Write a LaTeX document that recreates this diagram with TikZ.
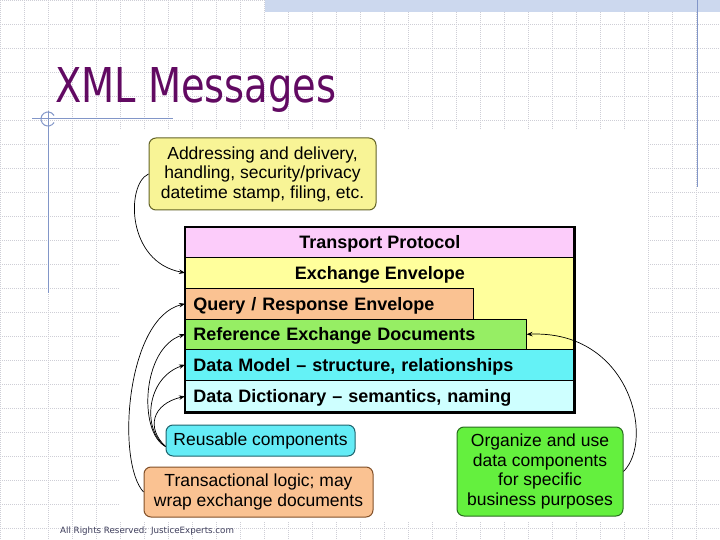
\documentclass[tikz,border=0pt]{standalone}
\usepackage{graphicx}
\usepackage{fontspec}
\setmainfont{Liberation Sans}
\newfontfamily\titlefont{DejaVu Sans}
\usetikzlibrary{arrows.meta}

\definecolor{gridgray}{RGB}{206,206,214}
\definecolor{decorblue}{RGB}{130,150,200}
\definecolor{bannerblue}{RGB}{204,216,238}
\definecolor{titlepurple}{RGB}{98,10,98}
\definecolor{footgray}{RGB}{60,60,90}
\definecolor{pinkc}{RGB}{252,204,250}
\definecolor{envyellow}{RGB}{255,255,156}
\definecolor{peach}{RGB}{250,194,146}
\definecolor{refgreen}{RGB}{150,238,100}
\definecolor{modelcyan}{RGB}{100,242,246}
\definecolor{dictcyan}{RGB}{206,255,255}
\definecolor{addryellow}{RGB}{248,244,150}
\definecolor{addrborder}{RGB}{100,100,40}
\definecolor{reusecyan}{RGB}{100,236,246}
\definecolor{reuseborder}{RGB}{30,100,110}
\definecolor{transborder}{RGB}{130,80,40}
\definecolor{orggreen}{RGB}{100,240,62}
\definecolor{orgborder}{RGB}{40,110,30}

\begin{document}
\begin{tikzpicture}
[x=1pt,y=-1pt,
gridline/.style={draw=gridgray,line width=0.5pt,dash pattern=on 1pt off 1pt},
decor/.style={draw=decorblue,line width=1pt},
layer/.style={draw,line width=0.6pt,anchor=north west,inner xsep=8pt,inner ysep=0pt,
  text height=13pt,text depth=0pt,font=\fontsize{18}{20}\selectfont\bfseries},
callout/.style={draw,rounded corners=7pt,line width=1pt,align=center,inner sep=0pt,
  font=\fontsize{17.5}{19.5}\selectfont},
link/.style={-{Stealth[length=6pt,width=4.5pt]},line width=0.7pt}]

\useasboundingbox (0,0) rectangle (720,540);
\fill[white] (0,0) rectangle (720,540);
\foreach \x in {0,24,...,720}
  \draw[gridline] (\x,0) -- (\x,540);
\foreach \y in {0,24,...,540}
  \draw[gridline] (0,\y) -- (720,\y);
\fill[white] (120,130) rectangle (648,522);
\fill[bannerblue] (265,0) rectangle (720,12);
\draw[decor] (697,0) -- (697,187);
\draw[decor] (32,119) -- (173,119);
\draw[decor] (48,111) -- (48,293);
\draw[decor] (48,119) ++(30:7) arc[start angle=30,end angle=330,radius=7];

\node[anchor=base west,inner sep=0pt,text=titlepurple,font=\titlefont\fontsize{48}{50}\selectfont]
  (title) at (55,103) {\scalebox{0.8}[1]{XML Messages}};

\fill[envyellow] (185,257) rectangle (574,349);
\node[layer,fill=pinkc,minimum width=389pt,minimum height=30pt] (transport) at (185,227) {Transport Protocol};
\node[layer,draw=none,minimum width=389pt,minimum height=31pt] (envelope) at (185,257) {Exchange Envelope};
\node[layer,fill=peach,text width=272pt,minimum height=31pt] (query) at (185,288) {Query / Response Envelope};
\node[layer,fill=refgreen,text width=325pt,minimum height=30pt] (reference) at (185,319) {Reference Exchange Documents};
\node[layer,fill=modelcyan,text width=373pt,minimum height=31pt] (model) at (185,349) {Data Model – structure, relationships};
\node[layer,fill=dictcyan,text width=373pt,minimum height=32pt] (dictionary) at (185,380) {Data Dictionary – semantics, naming};
\draw[line width=2.5pt] (transport.north west) rectangle (dictionary.south east);

\node[callout,fill=addryellow,draw=addrborder,minimum width=227pt,minimum height=72pt]
  (addressing) at (262.5,174) {Addressing and delivery,\\handling, security/privacy\\datetime stamp, filing, etc.};
\node[callout,fill=reusecyan,draw=reuseborder,minimum width=189pt,minimum height=31pt]
  (reusable) at (260.5,440.5) {Reusable components};
\node[callout,fill=peach,draw=transborder,minimum width=229pt,minimum height=50pt]
  (transactional) at (258.5,492) {Transactional logic; may\\wrap exchange documents};
\node[callout,fill=orggreen,draw=orgborder,minimum width=166pt,minimum height=89pt]
  (organize) at (540,471.5) {Organize and use\\data components\\for specific\\business purposes};

\draw[link] (addressing.west) .. controls (126,184) and (126,262) .. (envelope.west);
\draw[link] (transactional.west) .. controls (116,462) and (126,318) .. (query.west);
\draw[link] ([yshift=-6pt]reusable.west) .. controls (138,432) and (142,348) .. (reference.west);
\draw[link] ([yshift=-6pt]reusable.west) .. controls (142,430) and (146,378) .. (model.west);
\draw[link] ([yshift=-6pt]reusable.west) .. controls (146,428) and (152,404) .. (dictionary.west);
\draw[link] (organize.east) .. controls (655,440) and (630,330) .. (reference.east);

\node[anchor=base west,inner sep=0pt,text=footgray,font=\titlefont\fontsize{8.7}{10}\selectfont]
  (footer) at (60,533) {All Rights Reserved: JusticeExperts.com};
\end{tikzpicture}
\end{document}
